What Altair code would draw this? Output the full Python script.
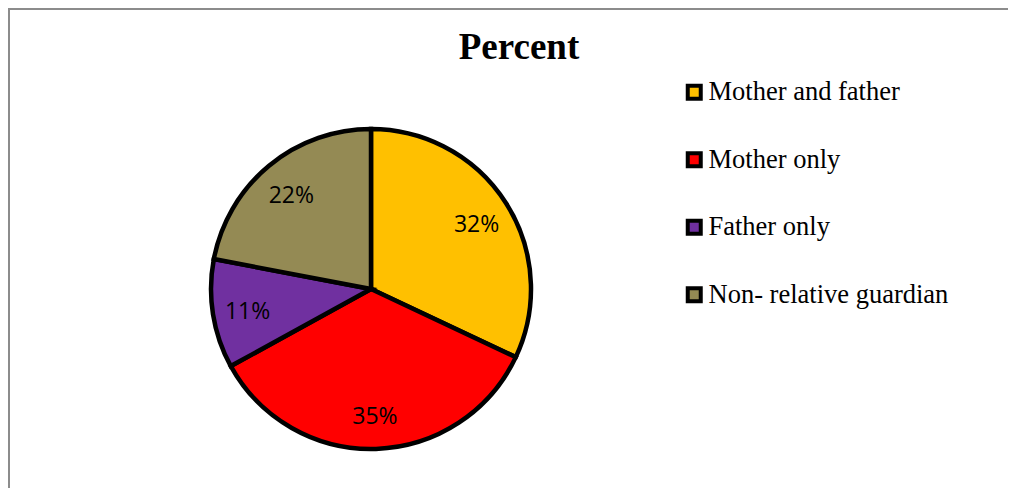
import altair as alt
import pandas as pd

categories = ["Mother and father", "Mother only", "Father only", "Non- relative guardian"]
percents = [32, 35, 11, 22]
labels = ["32%", "35%", "11%", "22%"]
colors = ["#FFC000", "#FF0000", "#7030A0", "#948A54"]
title_text = ["Percent"]

df = pd.DataFrame({
    "category": categories,
    "percent": percents,
    "label": labels,
    "order": list(range(len(categories))),
})

CX, CY = 363, 281
W, H = 1000, 480

base = alt.Chart(df).encode(
    theta=alt.Theta("percent:Q", stack=True),
    order=alt.Order("order:Q"),
)

arcs = base.mark_arc(radius=160, stroke="black", strokeWidth=4.5).encode(
    color=alt.Color(
        "category:N",
        scale=alt.Scale(domain=categories, range=colors),
        sort=categories,
        legend=alt.Legend(
            title=None,
            orient="none",
            legendX=673,
            legendY=71,
            symbolType="square",
            symbolSize=169,
            symbolStrokeColor="black",
            symbolStrokeWidth=4,
            symbolOpacity=1,
            labelFont="Liberation Serif",
            labelFontSize=26.5,
            labelColor="black",
            labelOffset=1,
            labelLimit=0,
            rowPadding=37.5,
            padding=0,
        ),
    ),
    x=alt.value(CX),
    y=alt.value(CY),
)

text = base.mark_text(radius=125, font="Open Sans", fontSize=23, color="black", dy=3).encode(
    text="label:N",
    x=alt.value(CX),
    y=alt.value(CY),
)

title = alt.Chart(pd.DataFrame({"t": title_text})).mark_text(
    font="Liberation Serif", fontSize=37, fontWeight="bold", color="black",
    align="center", baseline="alphabetic",
).encode(text="t:N", x=alt.value(511), y=alt.value(51))

border_top = alt.Chart(pd.DataFrame({"a": [0]})).mark_rule(color="#8c8c8c", strokeWidth=2).encode(
    x=alt.value(0), x2=alt.value(W), y=alt.value(1)
)
border_left = alt.Chart(pd.DataFrame({"a": [0]})).mark_rule(color="#8c8c8c", strokeWidth=2).encode(
    x=alt.value(1), y=alt.value(0), y2=alt.value(H)
)

chart = alt.layer(border_top, border_left, arcs, text, title).properties(
    width=W, height=H, padding=0, autosize=alt.AutoSizeParams(type="none"),
    background="white",
).configure_view(stroke=None)

chart.save("out.html", embed_options={"renderer": "svg", "actions": False})
